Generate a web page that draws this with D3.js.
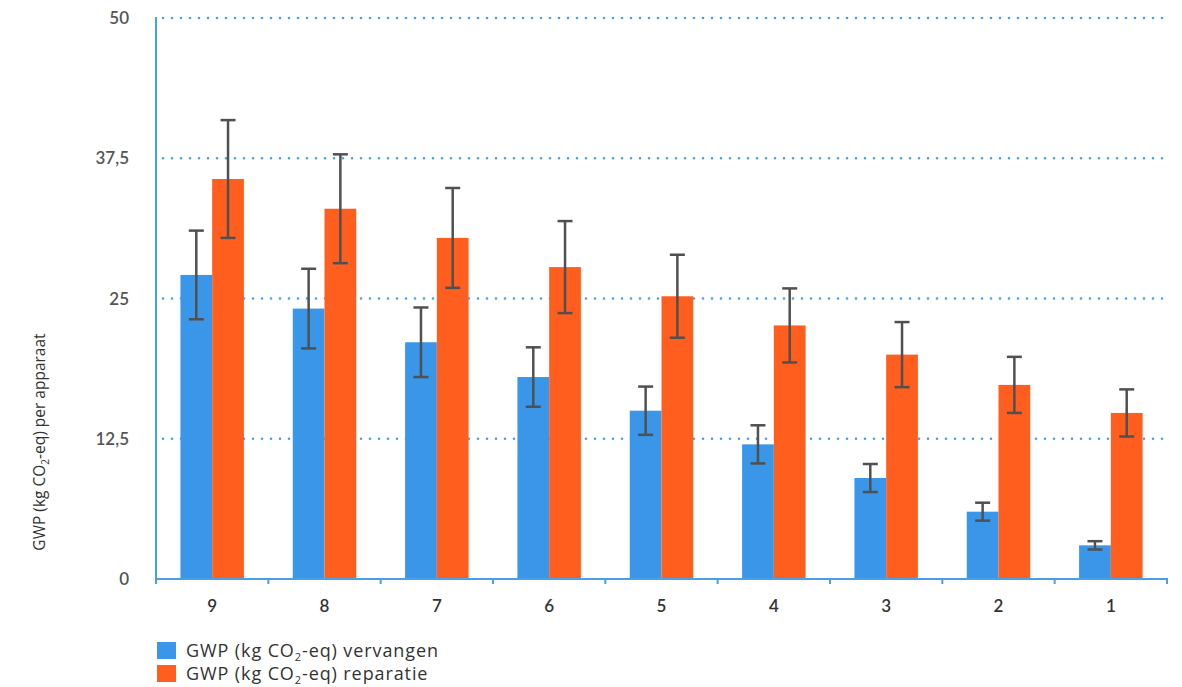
<!DOCTYPE html>
<html>
<head>
<meta charset="utf-8">
<script src="https://cdn.jsdelivr.net/npm/d3@7"></script>
<style>
  html, body { margin: 0; padding: 0; background: #fff; }
  svg { display: block; font-family: "Lato", "Open Sans", sans-serif; }
</style>
</head>
<body>
<svg id="chart" width="1182" height="687"></svg>
<script>
// ---- data ----
const categories = ["9", "8", "7", "6", "5", "4", "3", "2", "1"];
const seriesKeys = ["vervangen", "reparatie"];
const vervangen = [27.1, 24.1, 21.1, 18.0, 15.0, 12.0, 9.0, 6.0, 3.0];
const vervangenErr = [3.95, 3.55, 3.1, 2.65, 2.15, 1.7, 1.25, 0.8, 0.37];
const reparatie = [35.65, 33.0, 30.4, 27.8, 25.2, 22.6, 20.0, 17.3, 14.8];
const reparatieErr = [5.25, 4.85, 4.45, 4.1, 3.7, 3.3, 2.9, 2.5, 2.1];
const yTicks = [0, 12.5, 25, 37.5, 50];
const yTickLabels = ["0", "12,5", "25", "37,5", "50"];

const colors = { vervangen: "#3a96e8", reparatie: "#ff5e1f" };
const axisColor = "#4a9fe9";
const labelFont = "'Open Sans', sans-serif";

const svg = d3.select("#chart");
const pLeft = 156, pRight = 1167, pTop = 18, pBottom = 579;

const x0 = d3.scaleBand().domain(categories).range([pLeft, pRight]).paddingInner(0).paddingOuter(0);
const x1 = d3.scaleBand().domain(seriesKeys).range([0, x0.bandwidth()]).paddingInner(0).paddingOuter(0.77);
const y = d3.scaleLinear().domain([0, 50]).range([pBottom, pTop]);

// gridlines (dotted)
svg.append("g").selectAll("line")
  .data(yTicks.filter(d => d > 0))
  .join("line")
  .attr("x1", pLeft + 7).attr("x2", pRight)
  .attr("y1", d => y(d)).attr("y2", d => y(d))
  .attr("stroke", axisColor)
  .attr("stroke-width", 2.6)
  .attr("stroke-linecap", "round")
  .attr("stroke-dasharray", "0,9");

// data rows
const rows = categories.map((c, i) => ({
  cat: c,
  vals: [
    { key: "vervangen", v: vervangen[i], e: vervangenErr[i] },
    { key: "reparatie", v: reparatie[i], e: reparatieErr[i] }
  ]
}));

const groups = svg.append("g").selectAll("g")
  .data(rows).join("g")
  .attr("transform", d => `translate(${x0(d.cat)},0)`);

groups.selectAll("rect")
  .data(d => d.vals).join("rect")
  .attr("x", d => x1(d.key))
  .attr("width", x1.bandwidth())
  .attr("y", d => y(d.v))
  .attr("height", d => y(0) - y(d.v))
  .attr("fill", d => colors[d.key]);

// error bars
const errColor = "#505050";
const capHalf = 7.5;
const eb = groups.selectAll("g.err")
  .data(d => d.vals).join("g").attr("class", "err");
eb.append("line")
  .attr("x1", d => x1(d.key) + x1.bandwidth() / 2)
  .attr("x2", d => x1(d.key) + x1.bandwidth() / 2)
  .attr("y1", d => y(d.v + d.e)).attr("y2", d => y(d.v - d.e))
  .attr("stroke", errColor).attr("stroke-width", 2.5);
eb.append("line")
  .attr("x1", d => x1(d.key) + x1.bandwidth() / 2 - capHalf)
  .attr("x2", d => x1(d.key) + x1.bandwidth() / 2 + capHalf)
  .attr("y1", d => y(d.v + d.e)).attr("y2", d => y(d.v + d.e))
  .attr("stroke", errColor).attr("stroke-width", 2.5);
eb.append("line")
  .attr("x1", d => x1(d.key) + x1.bandwidth() / 2 - capHalf)
  .attr("x2", d => x1(d.key) + x1.bandwidth() / 2 + capHalf)
  .attr("y1", d => y(d.v - d.e)).attr("y2", d => y(d.v - d.e))
  .attr("stroke", errColor).attr("stroke-width", 2.5);

// x axis
const xAxis = svg.append("g");
xAxis.append("line")
  .attr("x1", pLeft - 1).attr("x2", pRight + 1)
  .attr("y1", pBottom).attr("y2", pBottom)
  .attr("stroke", axisColor).attr("stroke-width", 2);
const boundaries = categories.map(c => x0(c)).concat([pRight]);
xAxis.selectAll("line.tick").data(boundaries).join("line")
  .attr("class", "tick")
  .attr("x1", d => d).attr("x2", d => d)
  .attr("y1", pBottom).attr("y2", pBottom + 5)
  .attr("stroke", axisColor).attr("stroke-width", 2);
xAxis.selectAll("text").data(categories).join("text")
  .attr("x", d => x0(d) + x0.bandwidth() / 2)
  .attr("y", 612)
  .attr("text-anchor", "middle")
  .attr("font-size", 17)
  .attr("font-weight", 600)
  .attr("fill", "#333")
  .text(d => d);

// y axis
const yAxis = svg.append("g");
yAxis.append("line")
  .attr("x1", pLeft).attr("x2", pLeft)
  .attr("y1", pTop - 1).attr("y2", pBottom + 4)
  .attr("stroke", axisColor).attr("stroke-width", 2);
yAxis.selectAll("text").data(yTicks).join("text")
  .attr("x", 129)
  .attr("y", d => y(d) + 6)
  .attr("text-anchor", "end")
  .attr("font-size", 17)
  .attr("font-weight", 600)
  .attr("fill", "#555")
  .text((d, i) => yTickLabels[i]);

// y axis title with subscript
const yt = svg.append("text")
  .attr("transform", "translate(45,442) rotate(-90)")
  .attr("text-anchor", "middle")
  .attr("font-family", labelFont)
  .attr("font-size", 15.5)
  .attr("fill", "#333");
yt.append("tspan").text("GWP (kg CO");
yt.append("tspan").attr("font-size", 10).attr("dy", 4).text("2");
yt.append("tspan").attr("dy", -4).text("-eq) per apparaat");

// legend
const legendItems = [
  { key: "vervangen", label: "vervangen", yy: 642 },
  { key: "reparatie", label: "reparatie", yy: 665 }
];
const lg = svg.append("g").selectAll("g").data(legendItems).join("g")
  .attr("transform", d => `translate(157,${d.yy})`);
lg.append("rect").attr("width", 19).attr("height", 17).attr("fill", d => colors[d.key]);
const lt = lg.append("text").attr("x", 29).attr("y", 15)
  .attr("font-family", labelFont)
  .attr("font-size", 18).attr("letter-spacing", 0.9).attr("fill", "#333");
lt.append("tspan").text("GWP (kg CO");
lt.append("tspan").attr("font-size", 11).attr("dy", 4).text("2");
lt.append("tspan").attr("dy", -4).text(d => "-eq) " + d.label);
</script>
</body>
</html>
